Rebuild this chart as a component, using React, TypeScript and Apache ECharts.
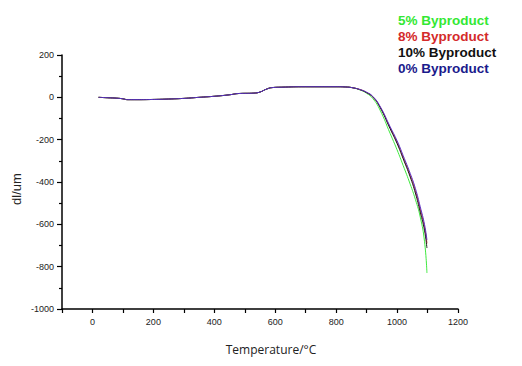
import React, { useEffect, useRef } from "react";
import * as echarts from "echarts";

// Temperature (°C) sample points shared by all curves
const temps = [20, 50, 80, 100, 115, 150, 200, 250, 300, 350, 400, 450, 480, 530, 550, 570, 590, 620, 700, 800, 830, 855, 880, 900, 920, 944, 977, 1000, 1020, 1043, 1060, 1076, 1090, 1098];

const common = [0, -2, -4, -7, -11, -11, -10, -8, -5, 0, 5, 12, 18, 20, 25, 38, 46, 48, 50, 50, 49, 45];

const tail0 = [36, 24, 5, -42, -138, -205, -275, -359, -430, -517, -600, -674];
const tail8 = [36, 23, 3, -45, -143, -212, -283, -368, -440, -528, -612, -690];
const tail10 = [35, 22, 2, -47, -148, -218, -290, -376, -452, -542, -628, -712];
const tail5 = [34, 19, -5, -60, -170, -248, -322, -410, -482, -565, -680, -830];

const seriesNames = ["5% Byproduct", "8% Byproduct", "10% Byproduct", "0% Byproduct"];
const seriesColors = ["#3ee83e", "#d42a2a", "#1a1a1a", "#5a34c8"];
const legendColors = ["#33e833", "#d42a2a", "#111111", "#1a1a8c"];
const tails = [tail5, tail8, tail10, tail0];

const xTicks = { min: -100, max: 1200, step: 100 };
const yTicks = { min: -1000, max: 200, step: 200 };

export default function App() {
  const ref = useRef<HTMLDivElement>(null);
  useEffect(() => {
    if (!ref.current) return;
    const chart = echarts.init(ref.current, null, { renderer: "svg" });
    const series = seriesNames.map((name, i) => ({
      name,
      type: "line",
      smooth: 0.5,
      symbol: "none",
      lineStyle: { width: 1, color: seriesColors[i] },
      itemStyle: { color: seriesColors[i] },
      z: 2 + i,
      data: temps.map((t, k) => [t, [...common, ...tails[i]][k]]),
    }));
    const font = "'Liberation Sans', Arial, sans-serif";
    chart.setOption({
      animation: false,
      grid: { left: 62, top: 55, width: 396, height: 254 },
      xAxis: {
        type: "value",
        min: xTicks.min,
        max: xTicks.max,
        interval: xTicks.step,
        axisLine: { onZero: false, lineStyle: { color: "#000", width: 1.5 } },
        axisTick: { show: true, length: 4, lineStyle: { color: "#000", width: 1.2 } },
        axisLabel: {
          margin: 8,
          fontSize: 9,
          color: "#222",
          fontFamily: font,
          formatter: (v: number) => (v % 200 === 0 ? String(v) : ""),
        },
        splitLine: { show: false },
      },
      yAxis: {
        type: "value",
        min: yTicks.min,
        max: yTicks.max,
        interval: yTicks.step,
        axisLine: { show: true, onZero: false, lineStyle: { color: "#000", width: 1.5 } },
        axisTick: { show: true, length: 5, lineStyle: { color: "#000", width: 1.2 } },
        minorTick: { show: true, splitNumber: 2, length: 3, lineStyle: { color: "#000", width: 1.2 } },
        axisLabel: { margin: 8, fontSize: 9, color: "#222", fontFamily: font, formatter: (v: number) => String(v) },
        splitLine: { show: false },
      },
      graphic: [
        ...seriesNames.map((n, i) => ({
          type: "text",
          left: 398,
          top: 13 + i * 16,
          style: {
            text: n,
            fill: legendColors[i],
            font: `bold 13.5px ${font}`,
          },
        })),
        {
          type: "text",
          x: 271,
          y: 349,
          style: {
            text: "Temperature/°C",
            fill: "#222",
            font: `12px 'Open Sans', ${font}`,
            textAlign: "center",
            textVerticalAlign: "middle",
          },
        },
        {
          type: "text",
          x: 16,
          y: 189,
          rotation: Math.PI / 2,
          style: {
            text: "dl/um",
            fill: "#222",
            font: `13px ${font}`,
            textAlign: "center",
            textVerticalAlign: "middle",
          },
        },
      ],
      series,
    });
    return () => chart.dispose();
  }, []);
  return <div ref={ref} style={{ width: 522, height: 366, margin: -8 }} />;
}
